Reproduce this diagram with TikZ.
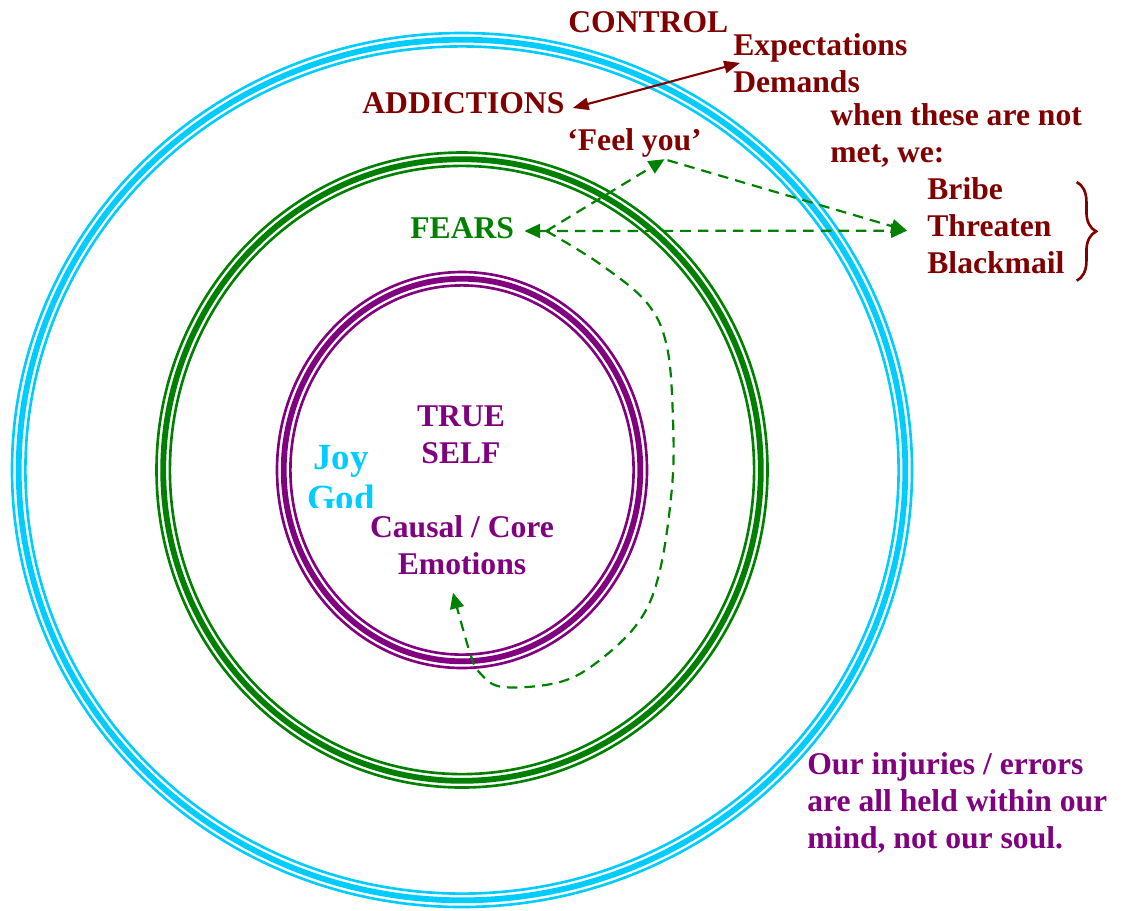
\documentclass[tikz,border=0pt]{standalone}
\usepackage{fontspec}
\setmainfont{Liberation Serif}
\usetikzlibrary{arrows.meta, decorations.pathreplacing}

\definecolor{ringcyan}{RGB}{0,204,255}
\definecolor{ringgreen}{RGB}{0,128,0}
\definecolor{ringpurple}{RGB}{128,0,128}
\definecolor{maroon}{RGB}{128,0,0}

\tikzset{
    ringthin/.style={line width=1.5pt},
    ringthick/.style={line width=3.3pt},
    lbl/.style={font=\bfseries\fontsize{18}{20.8}\selectfont, inner sep=0pt, anchor=base west},
    biglbl/.style={font=\bfseries\fontsize{21}{23.3}\selectfont, inner sep=0pt, align=center, anchor=base},
    fearlink/.style={ringgreen, line width=1.25pt, dash pattern=on 6pt off 4pt, -{Triangle[length=9pt, width=8pt]}},
    fearboth/.style={fearlink, {Triangle[length=9pt, width=8pt]}-{Triangle[length=9pt, width=8pt]}},
    wantlink/.style={maroon, line width=1.2pt, {Triangle[length=9pt, width=7pt]}-{Triangle[length=9pt, width=7pt]}},
}

\begin{document}
\begin{tikzpicture}[x=0.02cm, y=-0.02cm]

    % Centre of the rings (pixels, y down)
    \def\xo{462}
    \def\yo{470}
    \def\gap{6.7}   % distance between the strokes of a ring
    \useasboundingbox (0,0) rectangle (1124,910);

    % Rings: thin, thick, thin
    \foreach \col/\rx/\ry in {ringcyan/450/437, ringgreen/305.5/317.5, ringpurple/185/198}{
        \draw[\col, ringthin]  (\xo,\yo) ellipse ({\rx} and {\ry});
        \draw[\col, ringthick] (\xo,\yo) ellipse ({\rx-\gap} and {\ry-\gap});
        \draw[\col, ringthin]  (\xo,\yo) ellipse ({\rx-2*\gap} and {\ry-2*\gap});
    }

    % Outer ring (multi-line nodes sit on their last baseline)
    \node[lbl, maroon] (control) at (568,32) {CONTROL};
    \node[lbl, maroon, align=left] (wants) at (733,92) {Expectations\\Demands};
    \node[lbl, maroon] (addict) at (362,113) {ADDICTIONS};
    \node[lbl, maroon] (feel) at (567,150) {‘Feel you’};
    \node[lbl, maroon, align=left] (notmet) at (830,162) {when these are not\\met, we:};
    \node[lbl, maroon, align=left] (tactics) at (927,273) {Bribe\\Threaten\\Blackmail};
    \node[lbl, ringpurple, align=left] (note) at (807,848) {Our injuries / errors\\are all held within our\\mind, not our soul.};

    % Middle ring
    \node[lbl, ringgreen] (fears) at (410,238) {FEARS};

    % Inner ring
    \node[lbl, ringpurple, align=center, anchor=base] (self) at (461,463) {TRUE\\SELF};
    \node[lbl, ringpurple, align=center, anchor=base] (core) at (462,574) {Causal / Core\\Emotions};
    \begin{scope}
        \clip (280,430) rectangle (420,507);
        \node[biglbl, ringcyan] (joy) at (341,510) {Joy\\God};
    \end{scope}

    % Links
    \coordinate (hub) at ([shift={(32,-7)}]fears.base east);
    \draw[wantlink] ([shift={(8,-5)}]addict.base east) -- ([xshift=4]wants.west);
    \draw[fearboth] ([shift={(10,-7)}]fears.base east) -- ([shift={(-20,5)}]tactics.west);
    \draw[fearlink] (hub) -- ([shift={(30,2)}]feel.south);
    \draw[fearlink] ([shift={(33,3)}]feel.south) -- ([shift={(-20,5)}]tactics.west);
    \draw[fearlink] plot[smooth, tension=0.6] coordinates {(hub) (600,264) (647,303) (667,347) (673,420) (672,487) (660,570) (640,620) (600,660) (560,682) (503,687) (480,673) (470,653) ([shift={(-9,18)}]core.south)};

    % Brace
    \draw[maroon, line width=1.5pt, decorate, decoration={brace, amplitude=11pt}] ([shift={(12,4.5)}]tactics.north east) -- ([shift={(12,7)}]tactics.south east);

\end{tikzpicture}
\end{document}
